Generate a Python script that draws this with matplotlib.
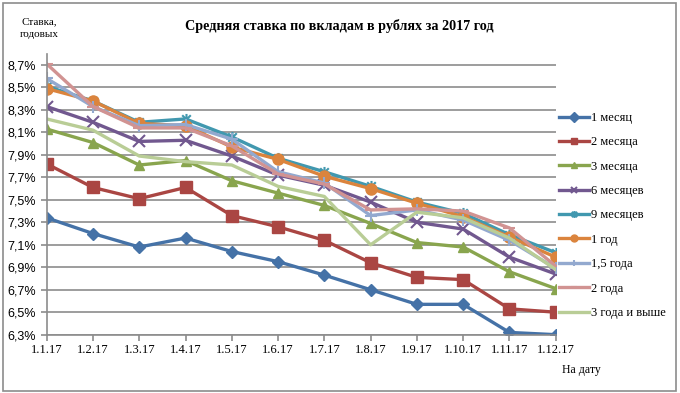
import matplotlib
matplotlib.use("Agg")
import matplotlib.pyplot as plt
import numpy as np
from matplotlib.path import Path
from matplotlib.patches import Rectangle

dates = ["1.1.17", "1.2.17", "1.3.17", "1.4.17", "1.5.17", "1.6.17",
         "1.7.17", "1.8.17", "1.9.17", "1.10.17", "1.11.17", "1.12.17"]

m1 = [7.34, 7.20, 7.08, 7.16, 7.04, 6.95, 6.83, 6.70, 6.57, 6.57, 6.32, 6.30]
m2 = [7.82, 7.61, 7.51, 7.61, 7.36, 7.26, 7.14, 6.94, 6.81, 6.79, 6.53, 6.50]
m3 = [8.13, 8.01, 7.81, 7.85, 7.67, 7.56, 7.45, 7.29, 7.12, 7.08, 6.86, 6.71]
m6 = [8.33, 8.19, 8.02, 8.03, 7.89, 7.72, 7.63, 7.48, 7.30, 7.24, 6.99, 6.84]
m9 = [8.51, 8.38, 8.19, 8.22, 8.06, 7.87, 7.75, 7.62, 7.48, 7.38, 7.19, 7.03]
y1 = [8.49, 8.38, 8.18, 8.16, 7.97, 7.86, 7.71, 7.60, 7.47, 7.35, 7.17, 6.99]
y15 = [8.58, 8.33, 8.16, 8.17, 8.04, 7.75, 7.65, 7.36, 7.41, 7.32, 7.14, 6.89]
y2 = [8.71, 8.33, 8.14, 8.14, 7.98, 7.73, 7.64, 7.41, 7.42, 7.40, 7.25, 6.91]
y3 = [8.22, 8.12, 7.89, 7.84, 7.81, 7.62, 7.53, 7.10, 7.39, 7.34, 7.16, 6.88]

labels = ["1 месяц", "2 месяца", "3 месяца", "6 месяцев", "9 месяцев",
          "1 год", "1,5 года", "2 года", "3 года и выше"]
series = [m1, m2, m3, m6, m9, y1, y15, y2, y3]

ytick_vals = [6.3, 6.5, 6.7, 6.9, 7.1, 7.3, 7.5, 7.7, 7.9, 8.1, 8.3, 8.5, 8.7]

colors = ["#4572A7", "#AA4643", "#89A54E", "#71588F", "#4198AF",
          "#DB843D", "#93A9CF", "#D19392", "#B9CD96"]

star = Path([(-1, -1), (1, 1), (-1, 1), (1, -1), (0, -1.3), (0, 1.3)],
            [Path.MOVETO, Path.LINETO, Path.MOVETO, Path.LINETO, Path.MOVETO, Path.LINETO])
markers = ["D", "s", "^", "x", star, "o", "+", "_", None]
msizes = [6, 8, 7, 8, 8, 8, 9, 8, 0]

fig = plt.figure(figsize=(6.8, 3.93), dpi=100)
fig.patches.append(Rectangle((0.004, 0.005), 0.99, 0.987, transform=fig.transFigure,
                             fill=False, edgecolor="#8c8c8c", linewidth=1.2))

ax = fig.add_axes([0.0687, 0.1484, 0.8172 - 0.0687, 0.8632 - 0.1484])
x = np.arange(len(dates))
for s, lab, c, mk, ms in zip(series, labels, colors, markers, msizes):
    ax.plot(x, s, color=c, lw=2.4, marker=mk, markersize=ms, label=lab,
            markeredgewidth=1.5 if mk in ("x", "+", "_") or mk is star else 1,
            markeredgecolor=c, markerfacecolor=c)

ax.set_xlim(0, 11)
ax.set_ylim(6.3, 8.8)
ax.set_yticks(ytick_vals)
ax.set_yticklabels([("%.1f%%" % v).replace(".", ",") for v in ytick_vals],
                   fontfamily="Liberation Sans", fontsize=9)
ax.set_xticks(x)
ax.set_xticklabels(dates, fontfamily="Liberation Serif", fontsize=9)
ax.tick_params(axis="both", colors="#8c8c8c", labelcolor="black", width=1.2, length=4)
ax.tick_params(axis="x", pad=3)
ax.grid(axis="y", color="#8c8c8c", lw=1.2)
ax.set_axisbelow(True)
for sp in ["top", "right"]:
    ax.spines[sp].set_visible(False)
for sp in ["left", "bottom"]:
    ax.spines[sp].set_color("#8c8c8c")
    ax.spines[sp].set_linewidth(1.2)

leg = fig.legend(loc="upper left", bbox_to_anchor=(0.815, 0.728), frameon=False,
                 prop={"family": "Liberation Serif", "size": 9},
                 handlelength=2.4, handletextpad=0.15, labelspacing=0.99, borderaxespad=0)
for h in leg.legend_handles:
    h.set_markersize(5)

fig.text(0.499, 0.934, "Средняя ставка по вкладам в рублях за 2017 год",
         ha="center", va="center", fontfamily="Liberation Serif", fontsize=10.2,
         fontweight="bold")
fig.text(0.058, 0.944, "Ставка,", ha="center", va="center",
         fontfamily="Liberation Serif", fontsize=8)
fig.text(0.058, 0.912, "годовых", ha="center", va="center",
         fontfamily="Liberation Serif", fontsize=8)
fig.text(0.855, 0.058, "На дату", ha="center", va="center",
         fontfamily="Liberation Serif", fontsize=8.5)

fig.savefig("out.png", dpi=100)
